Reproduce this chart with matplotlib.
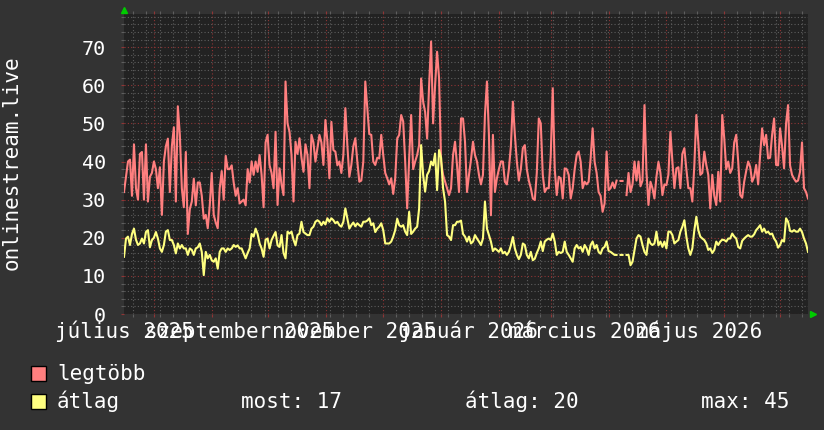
import numpy as np
import matplotlib
matplotlib.use("Agg")
import matplotlib.pyplot as plt
import matplotlib.dates as mdates
from matplotlib.patches import Rectangle
from datetime import datetime

nan = float("nan")

# időtartomány (egy év)
start = datetime(2025, 7, 16)
end = datetime(2026, 7, 16)

# legtöbb (max) - nagyjából napi értékek
legtobb = [
    32, 36, 40, 40.5, 31, 44.5, 33, 30, 42, 42.5,
    30, 44.5, 29.5, 36, 37, 40, 38, 33, 38.5, 26,
    40, 44, 46, 32, 44, 49, 29.5, 54.5, 47, 33,
    28, 42.5, 21, 27.5, 29.5, 35.5, 28.5, 34.5, 34.5, 31,
    25, 26, 22.5, 28.5, 37, 26, 24, 22.5, 33, 37.5,
    30, 41.5, 38, 38, 39, 34.5, 31, 33, 29, 29.5,
    30, 28.5, 38, 34.5, 40, 36.5, 40, 37.3, 41.7, 36.5,
    28, 45, 47, 39, 37, 33, 47.8, 28.6, 38.2, 34,
    31.2, 61, 50, 47.8, 41.7, 29.5, 45.2, 42, 46.1, 41,
    37.3, 44.5, 41.7, 33, 47, 45, 40, 43.5, 47, 45,
    39.1, 50.9, 45.2, 35.6, 50.4, 43, 42.6, 39, 40, 37,
    41.7, 54, 44.3, 36, 39.1, 44, 46.1, 40, 34.7, 35,
    40, 61, 54, 47.2, 47, 40, 39.1, 41, 40.8, 47,
    41.7, 37, 35.6, 34, 35.6, 31.5, 35.6, 46,
    47, 52.2, 50.5, 40, 27.7, 40.8, 52.2, 38, 40, 41.7,
    44.3, 61.8, 55.7, 53, 46, 60, 71.5, 50, 60, 68.8,
    61.8, 40, 36.5, 34.7, 33, 31.2, 33, 41.7, 45.2, 39,
    32, 51.3, 51.3, 45.2, 32, 36.5, 40.5, 45.2, 41.7, 40,
    36.5, 34, 36.5, 52.2, 61, 47, 25.9, 47, 32, 35.6,
    38, 40, 40, 34.7, 34, 38, 44, 55.7, 47, 40,
    35, 38, 43.5, 44.3, 38, 35, 33, 30.3,
    29.9, 37, 51.3, 50, 36.5, 32, 33, 33, 41.7, 59.2,
    38, 31.2, 36, 35.6, 30.3, 38.2, 38, 36.5, 30.3, 33,
    38, 41.7, 42.6, 40, 33, 34.7, 34, 34.7, 40.8, 48.7,
    39.9, 37, 32, 31, 26.8, 29, 42.6, 32.5, 33, 34.5,
    33, 35, nan, 34.9, 34.9, nan, 31.2, 37, 32, 34,
    40, 35, 40, 33.5, 35, 54.8, 37.3, 28.6, 34.7, 33,
    30.3, 36, 39.9, 37, 31.2, 34, 33.8, 36.5,
    47.8, 40, 33, 38.2, 38.5, 33, 42, 43.5, 38, 33,
    33, 29.5, 39, 52.2, 45, 36.5, 37, 42.6, 39.1, 36.5,
    27.7, 36.5, 31, 28.6, 37.3, 29.5, 52.2, 46.1, 38, 40,
    37, 38.2, 45, 47, 40, 31.2, 30.5, 34.7, 37.5, 40,
    38.6, 34.7, 36, 39.1, 34, 41.7, 48.7, 44.3, 47, 40.8,
    41, 47, 51.3, 39.1, 39, 48.7, 44, 38.2, 50, 54.8,
    39, 36.5, 35.5, 34.7, 35, 37.3, 45, 33, 32, 30.3,
]

# átlag
atlag = [
    15, 19.8, 20.3, 18.1, 21, 22.4, 19.5, 18.1, 18.5, 19.8,
    18.5, 21.5, 22, 17.5, 19.4, 20, 21.5, 19.8, 17.2, 16.3,
    18.1, 21.6, 22, 19.4, 19.4, 18.1, 15.9, 18.5, 17.2, 18.1,
    17.2, 17.2, 15.5, 17.2, 16.8, 15.5, 17.2, 17.5, 18.5, 16.3,
    10.2, 16.3, 14.6, 15.5, 14.1, 13.7, 14.6, 11.9, 16.3, 17.2,
    17.2, 16.3, 17.2, 16.8, 17.2, 18.1, 17.6, 18, 17.2, 17.2,
    15.9, 14.6, 16, 17.2, 21, 20.3, 22.4, 21, 18.5, 17.2,
    15, 19.5, 19.8, 17.2, 19.4, 20.5, 21.5, 18, 17.6, 20.7,
    16, 14.6, 21.6, 21.1, 21.6, 19.5, 18, 20.7, 21.1, 24.2,
    21.5, 21.1, 20.7, 20.7, 22.4, 22.9, 24.2, 24.6, 24.2, 23.3,
    24.2, 23.5, 25.1, 24.2, 25.1, 24.6, 23.8, 24.2, 23.3, 22.9,
    24.2, 27.7, 25, 22.4, 23.3, 24, 23, 23.8, 23.3, 22.9,
    24.2, 24.2, 24.5, 25.1, 23.3, 23.8, 21.5, 22.4, 22.9, 23.8,
    22, 18.5, 18.5, 18.5, 19, 20.3, 22, 25,
    23.3, 22.9, 23.3, 21.6, 20.7, 26.8, 21, 21.6, 22.4, 22.9,
    27.7, 44.3, 36.5, 32.1, 36.5, 37.5, 40, 39, 42.1, 32.5,
    43, 41, 33, 29.5, 20.7, 20.3, 19.4, 23.3, 23.3, 24.2,
    24.2, 24.5, 21, 20.3, 19, 20.3, 18.5, 19, 20.7, 19.8,
    19, 18.1, 19.8, 29.5, 22.4, 20.7, 19, 16.5, 17.2, 16.8,
    16.3, 17.2, 15.9, 16.3, 15.5, 16.3, 18, 20.2, 17.2, 15.5,
    14.4, 15.5, 18.5, 18.1, 15.5, 14.6, 16.3, 14.1,
    14.5, 16, 17.2, 19, 16.5, 19, 19.5, 19.8, 19.4, 21.1,
    19, 15.5, 16.3, 16, 16.3, 19, 16.3, 15.5, 14.6, 13.7,
    17.2, 18.1, 17.2, 17.6, 16.3, 18.1, 17.2, 15.5, 18.1, 19,
    17.2, 18.1, 16.3, 15.8, 17.2, 17.6, 19, 16.5, 16.3, 15.9,
    15.5, 15.5, nan, 15.5, 15.5, nan, 15.5, 15.5, 12.8, 13.7,
    16.8, 19.8, 20.7, 20.3, 18.1, 16.3, 15.5, 19.8, 18.5, 18.1,
    18.5, 21.6, 18, 19, 17.6, 19, 17.2, 21.6,
    21.6, 20.7, 18.5, 19, 19.4, 21.6, 22.9, 24.6, 20.3, 17.2,
    15.5, 17.2, 22, 25.5, 22, 20.3, 19.8, 19.4, 18.5, 16.8,
    17.2, 16, 16.8, 19, 18.1, 19, 19.5, 19.4, 19, 19.8,
    19.8, 21.1, 20.3, 19.8, 17.6, 17.2, 19.2, 19.8, 20.3, 20.7,
    20.3, 20.3, 20.9, 22, 22.6, 23.3, 21.6, 22.4, 21.3, 21.6,
    20.9, 21.1, 19.8, 19, 17.4, 18.1, 19.4, 19, 25.1, 24.2,
    21.8, 21.6, 22, 21.6, 21.6, 22.4, 21.5, 19.8, 18.5, 16.3,
]

label_dates = [datetime(2025, 7, 16), datetime(2025, 9, 16), datetime(2025, 11, 16),
               datetime(2026, 1, 16), datetime(2026, 3, 19), datetime(2026, 5, 19)]
label_texts = ["július 2025", "szeptember 2025", "november 2025",
               "január 2026", "március 2026", "május 2026"]
y_ticks = [0, 10, 20, 30, 40, 50, 60, 70]
most, atl, mx = 17, 20, 45

BG = "#333333"
PLOT_BG = "#222222"
RED = "#ff7f7f"
YEL = "#ffff80"
MINOR = "#5e5e5e"
MAJOR = "#8f3535"

plt.rcParams["font.family"] = ["DejaVu Sans Mono"]
fig = plt.figure(figsize=(8.24, 4.30), dpi=100, facecolor=BG)
ax = fig.add_axes([124 / 824, 116 / 430, 684 / 824, 300 / 430], facecolor=PLOT_BG)

x0, x1 = mdates.date2num(start), mdates.date2num(end)
xr = np.linspace(x0, x1, len(legtobb))
xa = np.linspace(x0, x1, len(atlag))
ax.plot(xr, legtobb, color=RED, lw=1.5, zorder=3)
ax.plot(xa, atlag, color=YEL, lw=1.5, zorder=4)

ax.set_xlim(x0, x1)
ax.set_ylim(0, 78.7)

# rács
ax.xaxis.set_major_locator(mdates.MonthLocator(bymonthday=1))
ax.xaxis.set_minor_locator(mdates.WeekdayLocator(byweekday=mdates.MO))
ax.xaxis.set_major_formatter(plt.NullFormatter())
ax.set_yticks(y_ticks)
ax.set_yticks(np.arange(0, 79, 2), minor=True)
ax.set_axisbelow(True)
ax.grid(which="minor", color=MINOR, lw=0.8, ls=(0, (1, 2)))
ax.grid(which="major", color=MAJOR, lw=0.8, ls=(0, (1, 2)))

ax.tick_params(axis="x", which="both", bottom=True, top=True, direction="out", length=2, width=0.8)
ax.tick_params(axis="x", which="major", color=MAJOR)
ax.tick_params(axis="x", which="minor", color=MINOR)
ax.tick_params(axis="y", which="both", left=True, direction="out", length=2, width=0.8, color=MINOR)
ax.tick_params(axis="y", which="major", colors="white", labelsize=14.5, pad=11)
ax.tick_params(axis="y", which="major", color=MAJOR)

for s in ax.spines.values():
    s.set_visible(False)

# dátum címkék
for d, t in zip(label_dates, label_texts):
    ax.text(mdates.date2num(d), -0.08, t, transform=ax.get_xaxis_transform(),
            ha="center", va="baseline", color="white", fontsize=15)

# zöld nyilak
ax.plot([0], [1.012], marker="^", color="#00cc00", markersize=4.5,
        transform=ax.transAxes, clip_on=False)
ax.plot([1.007], [0], marker=">", color="#00cc00", markersize=4.5,
        transform=ax.transAxes, clip_on=False)

fig.text(12 / 824, 1 - 163 / 430, "onlinestream.live", rotation=90,
         ha="center", va="center", color="white", fontsize=15)

# jelmagyarázat
fig.add_artist(Rectangle((31.5 / 824, 1 - 381 / 430), 15 / 824, 15 / 430,
                         transform=fig.transFigure, facecolor=RED, edgecolor="black", lw=1))
fig.add_artist(Rectangle((31.5 / 824, 1 - 409 / 430), 15 / 824, 15 / 430,
                         transform=fig.transFigure, facecolor=YEL, edgecolor="black", lw=1))
fig.text(57 / 824, 1 - 380 / 430, "legtöbb", color="white", fontsize=15, va="baseline")
fig.text(57 / 824, 1 - 408 / 430, "átlag", color="white", fontsize=15, va="baseline")
fig.text(241 / 824, 1 - 408 / 430, f"most: {most}", color="white", fontsize=15, va="baseline")
fig.text(465 / 824, 1 - 408 / 430, f"átlag: {atl}", color="white", fontsize=15, va="baseline")
fig.text(701 / 824, 1 - 408 / 430, f"max: {mx}", color="white", fontsize=15, va="baseline")

fig.savefig("out.png", dpi=100, facecolor=BG)
